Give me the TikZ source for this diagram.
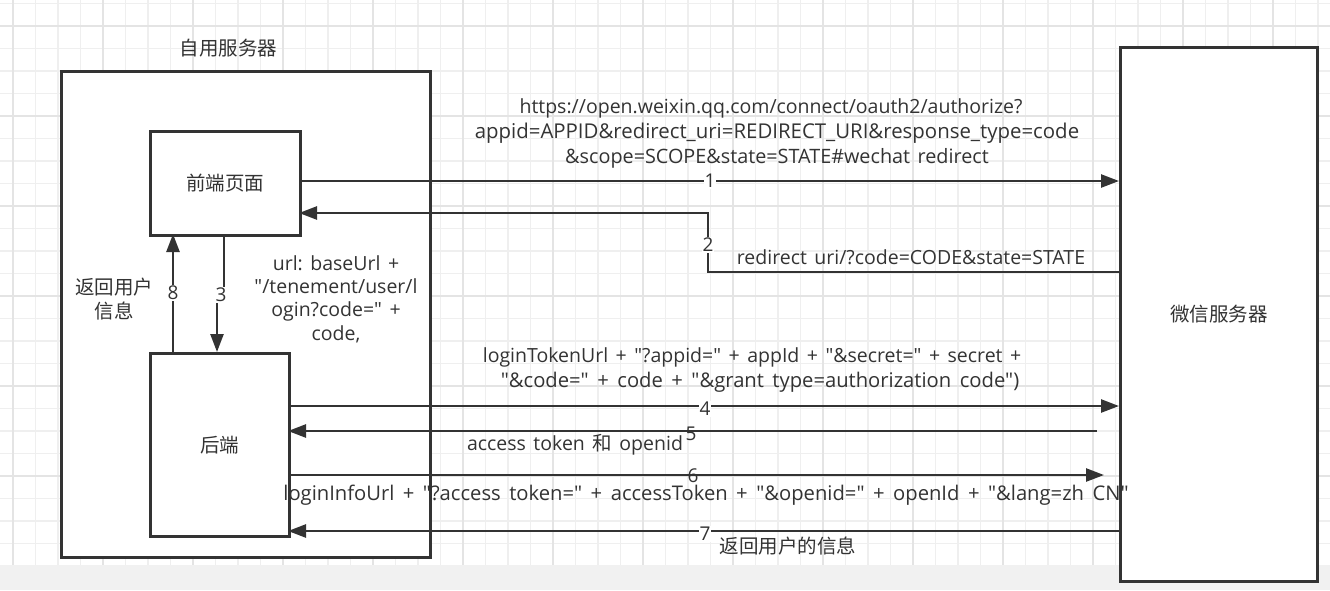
\documentclass[tikz,border=0pt]{standalone}
\usepackage{fontspec}
\setmainfont{Open Sans}[Ligatures=TeXOff]
\newfontfamily\cjk{Noto Sans CJK SC}
\usetikzlibrary{arrows.meta}
\frenchspacing
\definecolor{ink}{HTML}{333333}
\definecolor{gridminor}{HTML}{EFEFEF}
\definecolor{gridmajor}{HTML}{E4E4E4}
\definecolor{band}{HTML}{F1F1F1}
\newcommand\widesp{\spaceskip=7.5pt plus 1pt minus 1pt\relax}
\newcommand\widersp{\spaceskip=8.5pt plus 1pt minus 1pt\relax}
\tikzset{
  x=1pt, y=-1pt,
  box/.style={draw=ink, line width=2.5pt, fill=white},
  conn/.style={draw=ink, line width=2.5pt, -{Triangle[length=18pt,width=13pt]}},
  txt/.style={text=ink, inner sep=0pt, align=center, font=\fontsize{19.5}{25}\selectfont\widesp},
  ctxt/.style={text=ink, inner sep=0pt, align=center, font=\cjk\fontsize{19.5}{25}\selectfont},
  num/.style={text=ink, fill=white, inner sep=1pt, font=\fontsize{19}{20}\selectfont},
}
\begin{document}
\begin{tikzpicture}
\useasboundingbox (0,0) rectangle (1330,590);
\fill[white] (0,0) rectangle (1330,590);
% grid
\foreach \i in {0,...,58} {
  \pgfmathsetmacro\gx{13+22.5*\i}
  \draw[gridminor, line width=1.2pt] (\gx,0) -- (\gx,565);
}
\foreach \i in {0,...,25} {
  \pgfmathsetmacro\gy{3.5+22.5*\i}
  \draw[gridminor, line width=1.2pt] (0,\gy) -- (1330,\gy);
}
\foreach \i in {0,...,14} {
  \pgfmathsetmacro\gx{13+90*\i}
  \draw[gridmajor, line width=1.2pt] (\gx,0) -- (\gx,565);
}
\foreach \i in {0,...,6} {
  \pgfmathsetmacro\gy{26+90*\i}
  \draw[gridmajor, line width=1.2pt] (0,\gy) -- (1330,\gy);
}
\fill[band] (0,565) rectangle (1330,590);

% containers
\node[box, minimum width=369pt, minimum height=486pt, anchor=north west] (own) at (60,70) {};
\node[ctxt] (ownlbl) at (228.5,48) {自用服务器};
\node[box, minimum width=150pt, minimum height=104pt, anchor=north west] (fe) at (149,130) {};
\node[ctxt] at (fe.center) {前端页面};
\node[box, minimum width=139pt, minimum height=183pt, anchor=north west] (be) at (149,352) {};
\node[ctxt] at (be.center) {后端};
\node[box, minimum width=197pt, minimum height=534pt, anchor=north west] (wx) at (1119,46) {};
\node[ctxt] at (1219,314) {微信服务器};

% helper coordinates
\coordinate (fe1) at (299,181);
\coordinate (wx1) at (1119,181);
\coordinate (wx2) at (1119,272);
\coordinate (fe2) at (299,213);
\coordinate (be4) at (288,406);
\coordinate (wx4) at (1119,406);
\coordinate (wx5) at (1097,431);
\coordinate (be5) at (288,431);
\coordinate (be6) at (288,475);
\coordinate (wx6) at (1104,475);
\coordinate (wx7) at (1119,531);
\coordinate (be7) at (288,531);
\coordinate (fe3) at (224,234);
\coordinate (be3) at (217,352);
\coordinate (be8) at (173,352);
\coordinate (fe8) at (173,234);

% 1
\draw[conn] (fe1) -- (wx1);
\node[num] at (710,181) {1};
\node[txt, font=\fontsize{19.5}{25}\selectfont\widesp] at (771,108) {https://open.weixin.qq.com/connect/oauth2/authorize?};
\node[txt, font=\fontsize{20.4}{25}\selectfont\widesp] at (777,133) {appid=APPID\&redirect\_uri=REDIRECT\_URI\&response\_type=code};
\node[txt, font=\fontsize{19.8}{25}\selectfont\widesp] at (777,158) {\&scope=SCOPE\&state=STATE\#wechat redirect};
% 2
\draw[conn] (wx2) -- (708,272) -- (708,213) -- (fe2);
\node[num] at (708,245) {2};
\node[txt] at (911,257) {redirect uri/?code=CODE\&state=STATE};
% 3
\draw[conn] (fe3) -- (224,295) -- (217,295) -- (be3);
\node[num] at (221,295) {3};
\node[txt, font=\fontsize{19.5}{23.3}\selectfont\widesp] at (336,299) {url: baseUrl +\\"/tenement/user/l\\ogin?code=" +\\code,};
% 8
\draw[conn] (be8) -- (fe8);
\node[num] at (173,293) {8};
\node[ctxt, font=\cjk\fontsize{19.5}{24}\selectfont] at (114,299) {返回用户\\信息};
% 4
\draw[conn] (be4) -- (wx4);
\node[num] at (705,409) {4};
\node[txt] at (752,357) {loginTokenUrl + "?appid=" + appId + "\&secret=" + secret +};
\node[txt, font=\fontsize{20.2}{25}\selectfont\widersp] at (760,382) {"\&code=" + code + "\&grant type=authorization code")};
% 5
\draw[conn] (wx5) -- (be5);
\node[num, fill=none] at (691,434) {5};
\node[txt] at (575,445) {access token {\cjk 和} openid};
% 6
\draw[conn] (be6) -- (wx6);
\node[num, fill=none] at (693,476) {6};
\node[txt, font=\fontsize{20.2}{25}\selectfont\widersp] at (706,495) {loginInfoUrl + "?access token=" + accessToken + "\&openid=" + openId + "\&lang=zh CN"};
% 7
\draw[conn] (wx7) -- (be7);
\node[num] at (705,534) {7};
\node[ctxt] at (788,546) {返回用户的信息};
\end{tikzpicture}
\end{document}
